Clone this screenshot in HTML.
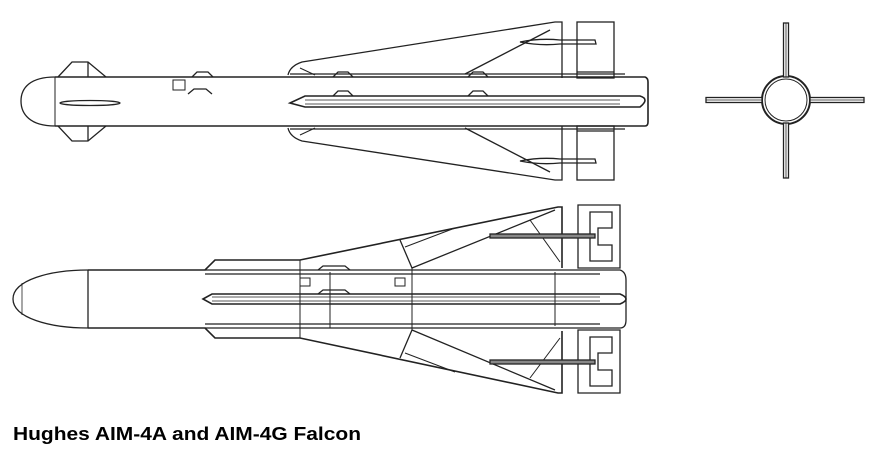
<!DOCTYPE html>
<html><head><meta charset="utf-8"><style>
html,body{margin:0;padding:0;background:#fff;width:874px;height:452px;overflow:hidden}
svg{display:block}
</style></head><body>
<svg width="874" height="452" viewBox="0 0 874 452" xmlns="http://www.w3.org/2000/svg" fill="none" stroke="#222" stroke-width="1.3">
<g>
<path d="M58,77 L72,62 L88,62 L106,77"/>
<path d="M58,126 L72,141 L88,141 L106,126"/>
<line x1="88" y1="62" x2="88" y2="77"/><line x1="88" y1="126" x2="88" y2="141"/>
<path d="M55,77 L645,77 Q648,78 648,82 L648,122 Q648,126 645,126 L55,126" stroke-width="1.6"/>
<path d="M55,77 C30,77 21,88 21,101 C21,114 30,126 55,126"/>
<line x1="55" y1="77" x2="55" y2="126" stroke-width="1"/>
<ellipse cx="90" cy="103" rx="30" ry="2.5"/>
<path d="M288,75 Q290,66 302,62 L555,22 L562,22 L562,78"/>
<line x1="550" y1="30" x2="465" y2="74"/>
<line x1="300" y1="68" x2="315" y2="75" stroke-width="1"/>
<path d="M288,128 Q290,137 302,141 L555,180 L562,180 L562,126"/>
<line x1="550" y1="172" x2="465" y2="128"/>
<line x1="300" y1="135" x2="315" y2="128" stroke-width="1"/>
<line x1="290" y1="74" x2="625" y2="74"/><line x1="290" y1="129" x2="625" y2="129"/>
<rect x="577" y="22" width="37" height="56"/>
<line x1="577" y1="72" x2="614" y2="72"/>
<rect x="577" y="126" width="37" height="54"/>
<line x1="577" y1="131" x2="614" y2="131"/>
<path d="M520,42 Q540,38 560,40 L595,40 L596,44 L560,44 Q540,46 520,42Z"/>
<path d="M520,161 Q540,157 560,159 L595,159 L596,163 L560,163 Q540,165 520,161Z"/>
<path d="M290,103 L305,96 L640,96 Q650,99 640,107 L305,107 Z" stroke-width="1.6"/>
<line x1="305" y1="100" x2="620" y2="100" stroke-width="0.8"/>
<line x1="305" y1="104" x2="620" y2="104" stroke-width="0.8"/>
<path d="M192,77 L197,72 L208,72 L213,77"/>
<path d="M188,94 L194,89 L206,89 L212,94"/>
<rect x="173" y="80" width="12" height="10" stroke-width="1"/>
<path d="M333,77 L338,72 L348,72 L353,77"/>
<path d="M468,77 L473,72 L483,72 L488,77"/>
<path d="M333,96 L338,91 L348,91 L353,96"/>
<path d="M468,96 L473,91 L483,91 L488,96"/>
</g>

<g>
<circle cx="786" cy="100" r="24" stroke-width="2"/>
<circle cx="786" cy="100" r="21" stroke-width="1"/>
<rect x="783.5" y="23" width="5" height="54" fill="#fff"/>
<rect x="783.5" y="123" width="5" height="55" fill="#fff"/>
<rect x="706" y="97.5" width="56" height="5" fill="#fff"/>
<rect x="810" y="97.5" width="54" height="5" fill="#fff"/>
<line x1="786" y1="23" x2="786" y2="77" stroke-width="0.8"/>
<line x1="786" y1="123" x2="786" y2="178" stroke-width="0.8"/>
<line x1="706" y1="100" x2="762" y2="100" stroke-width="0.8"/>
<line x1="810" y1="100" x2="864" y2="100" stroke-width="0.8"/>
</g>

<g>
<path d="M88,270 L205,270 L215,260 L300,260 L558,207 L562,207 L562,268" stroke-width="1.6"/>
<path d="M88,328 L205,328 L215,338 L300,338 L558,393 L562,393 L562,331" stroke-width="1.6"/>
<path d="M88,270 C50,270 13,280 13,299 C13,318 50,328 88,328"/>
<line x1="22" y1="283" x2="22" y2="315" stroke-width="0.8"/>
<line x1="88" y1="270" x2="88" y2="328"/>
<path d="M205,270 L620,270 Q626,272 626,280 L626,320 Q626,328 620,328 L205,328"/>
<line x1="205" y1="274" x2="600" y2="274"/><line x1="205" y1="324" x2="600" y2="324"/>
<line x1="300" y1="260" x2="300" y2="338" stroke-width="1"/>
<line x1="412" y1="268" x2="412" y2="330" stroke-width="1"/>
<line x1="330" y1="272" x2="330" y2="328" stroke-width="1"/>
<line x1="555" y1="272" x2="555" y2="326" stroke-width="1"/>
<path d="M400,240 L412,268 L555,210"/>
<path d="M400,358 L412,330 L555,390"/>
<path d="M530,220 L560,262" stroke-width="1"/>
<path d="M530,378 L560,338" stroke-width="1"/>
<path d="M405,247 L455,228" stroke-width="1"/>
<path d="M405,353 L455,372" stroke-width="1"/>
<path d="M578,205 L620,205 L620,268 L578,268 Z M590,212 L612,212 L612,228 L598,228 L598,245 L612,245 L612,261 L590,261 Z"/>
<path d="M578,330 L620,330 L620,393 L578,393 Z M590,337 L612,337 L612,353 L598,353 L598,370 L612,370 L612,386 L590,386 Z"/>
<rect x="490" y="234" width="105" height="4" fill="#888"/>
<rect x="490" y="360" width="105" height="4" fill="#888"/>
<path d="M203,299 L212,294 L620,294 Q632,299 620,304 L212,304 Z" stroke-width="1.6"/>
<line x1="212" y1="297" x2="600" y2="297" stroke-width="0.8"/>
<line x1="212" y1="301" x2="600" y2="301" stroke-width="0.8"/>
<path d="M318,270 L323,266 L345,266 L350,270"/>
<path d="M318,294 L323,290 L345,290 L350,294"/>
<rect x="300" y="278" width="10" height="8" stroke-width="1"/>
<rect x="395" y="278" width="10" height="8" stroke-width="1"/>
</g>

<text x="13" y="440" font-family="Liberation Sans, Arial, sans-serif" font-weight="bold" font-size="18" fill="#000" stroke="none" textLength="348" lengthAdjust="spacingAndGlyphs">Hughes AIM-4A and AIM-4G Falcon</text>
</svg>
</body></html>
